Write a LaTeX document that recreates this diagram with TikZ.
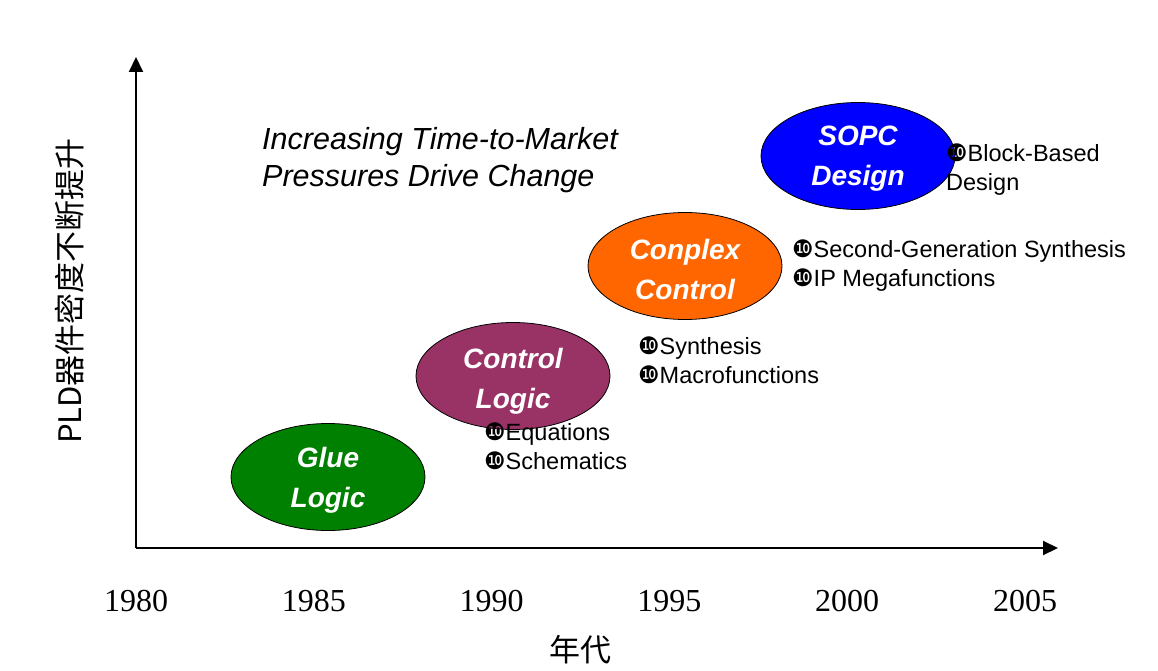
\documentclass[tikz,border=0pt]{standalone}
\usepackage{fontspec}
\usepackage{tikz}
\usetikzlibrary{shapes.geometric,arrows.meta}
\setmainfont{Liberation Sans}
\newfontfamily\yearfont{Liberation Serif}
\newfontfamily\cjkfont{Noto Sans CJK SC}
\newfontfamily\symfont{DejaVu Sans}
\newcommand{\tick}[0]{{\symfont\fontsize{24}{24}\selectfont ❿}}
\newcommand{\axisWidth}[0]{2pt}
\definecolor{gluegreen}{HTML}{008000}
\definecolor{ctrlpurple}{HTML}{993366}
\definecolor{cplxorange}{HTML}{FF6600}
\definecolor{sopcblue}{HTML}{0000FF}

\begin{document}
\begin{tikzpicture}[x=1pt, y=-1pt]
  \tikzset{every node/.style={inner sep=0pt},
    era/.style={ellipse, draw=black, line width=0.8pt, minimum width=194pt,
      minimum height=107pt},
    era text/.style={text=white, align=center,
      font=\bfseries\itshape\fontsize{28}{40}\selectfont},
    item/.style={anchor=base west, font=\fontsize{23.5}{29}\selectfont},
    axis/.style={line width=\axisWidth, -{Triangle[length=15pt,width=14pt]}}}
  \useasboundingbox (0,0) rectangle (1158,671);
  % axes
  \coordinate (origin) at (136,548);
  \coordinate (y-top) at (136,57);
  \coordinate (x-end) at (1058,548);
  \draw[axis] (origin) -- (y-top);
  \draw[axis] (origin) -- (x-end);
  % eras
  \node[era, fill=gluegreen] (glue) at (328,477) {};
  \node[era, fill=ctrlpurple] (control) at (513,376) {};
  \node[era, fill=cplxorange] (conplex) at (685,266) {};
  \node[era, fill=sopcblue] (sopc) at (858,156) {};
  \node[era text] (glue-text) at ([yshift=-3pt]glue) {Glue\\Logic};
  \node[era text] (control-text) at ([yshift=-5pt]control) {Control\\Logic};
  \node[era text] (conplex-text) at ([yshift=-3pt]conplex) {Conplex\\Control};
  \node[era text] (sopc-text) at ([yshift=-3pt]sopc) {SOPC\\Design};
  % title
  \node[anchor=base west, font=\itshape\fontsize{30.5}{36}\selectfont] (title-1) at (262,150) {Increasing Time-to-Market};
  \node[anchor=base west, font=\itshape\fontsize{30.5}{36}\selectfont] (title-2) at (262,186) {Pressures Drive Change};
  % design methods
  \node[item] (eq-1) at (484,440) {\tick Equations};
  \node[item] (eq-2) at (484,469) {\tick Schematics};
  \node[item] (syn-1) at (638,354) {\tick Synthesis};
  \node[item] (syn-2) at (638,383) {\tick Macrofunctions};
  \node[item] (gen-1) at (792,257) {\tick Second-Generation Synthesis};
  \node[item] (gen-2) at (792,286) {\tick IP Megafunctions};
  \node[item] (blk-1) at (946,161) {\tick Block-Based};
  \node[item] (blk-2) at (946,190) {Design};
  % years
  \foreach \yr [count=\i from 0] in {1980,1985,1990,1995,2000,2005}
    \node[font=\yearfont\fontsize{32}{32}\selectfont] (year-\yr) at (136+177.8*\i,601) {\yr};
  \node[font=\cjkfont\fontsize{31}{31}\selectfont] (x-label) at (580,650) {年代};
  \node[rotate=90, font=\cjkfont\fontsize{31}{31}\selectfont] (y-label) at (70,291) {PLD器件密度不断提升};
\end{tikzpicture}
\end{document}
